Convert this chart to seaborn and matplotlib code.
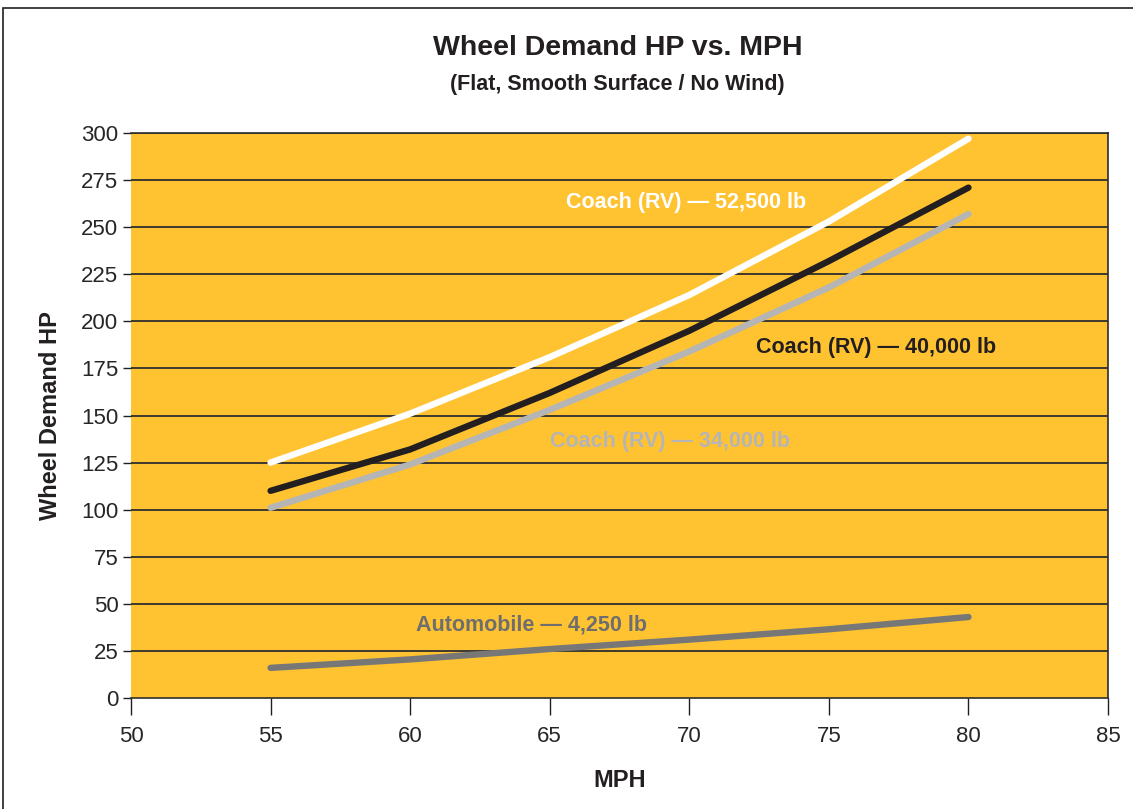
import matplotlib
matplotlib.use('Agg')
import matplotlib.pyplot as plt
import seaborn as sns
import pandas as pd
from matplotlib.patches import Rectangle

# speeds (MPH) and wheel demand HP
mph = [55, 60, 65, 70, 75, 80]
coach_52500 = [125, 151, 181, 214, 253, 297]
coach_40000 = [110, 132, 162, 195, 232, 271]
coach_34000 = [101, 124, 153, 184, 218, 257]
automobile = [16, 20.5, 26, 31, 36.5, 43]

series_names = ['Coach (RV) \u2014 52,500 lb', 'Coach (RV) \u2014 40,000 lb',
                'Coach (RV) \u2014 34,000 lb', 'Automobile \u2014 4,250 lb']
series_values = [coach_52500, coach_40000, coach_34000, automobile]
line_colors = ['#ffffff', '#231f20', '#b5b5b5', '#777777']
label_colors = ['#ffffff', '#231f20', '#b5b5b5', '#6e6e6e']
label_pos = [(65.6, 263), (72.4, 186), (65.0, 136), (60.2, 39)]

sns.set_style('white')
plt.rcParams['font.family'] = ['Liberation Sans Narrow', 'Liberation Sans', 'DejaVu Sans']

rows = []
for name, vals in zip(series_names, series_values):
    for x, y in zip(mph, vals):
        rows.append({'MPH': x, 'HP': y, 'Series': name})
df = pd.DataFrame(rows)

fig = plt.figure(figsize=(11.33, 8.09), dpi=100)
ax = fig.add_axes([0.1156, 0.1372, 0.8624, 0.6984])
ax.set_facecolor('#ffc332')

for y in range(25, 301, 25):
    ax.axhline(y, color='#2e2e2e', lw=1.3, zorder=1)

sns.lineplot(data=df, x='MPH', y='HP', hue='Series', palette=dict(zip(series_names, line_colors)),
             linewidth=4.6, ax=ax, legend=False, zorder=3,
             solid_capstyle='round', solid_joinstyle='round')

for name, col, (lx, ly) in zip(series_names, label_colors, label_pos):
    ax.text(lx, ly, name, color=col, fontsize=15.5, fontweight='bold',
            ha='left', va='center', zorder=4)

ax.set_xlim(50, 85)
ax.set_ylim(0, 300)
ax.set_xticks(range(50, 86, 5))
ax.set_yticks(range(0, 301, 25))
ax.tick_params(axis='x', direction='out', length=12, width=1, color='#231f20',
               labelsize=16, pad=8, bottom=True)
ax.tick_params(axis='y', direction='out', length=6, width=1, color='#231f20',
               labelsize=16, pad=3, left=True)
for s in ax.spines.values():
    s.set_color('#2e2e2e')
    s.set_linewidth(1.2)
ax.spines['left'].set_visible(False)

ax.set_xlabel('MPH', fontsize=17, fontweight='bold', labelpad=16, color='#231f20')
ax.set_ylabel('Wheel Demand HP', fontsize=17, fontweight='bold', labelpad=14, color='#231f20')

fig.text(0.545, 0.941, 'Wheel Demand HP vs. MPH', ha='center', va='center',
         fontsize=20.5, fontweight='bold', color='#231f20')
fig.text(0.545, 0.895, '(Flat, Smooth Surface / No Wind)', ha='center', va='center',
         fontsize=15.5, fontweight='bold', color='#231f20')

# outer frame
fig.patches.append(Rectangle((3 / 1133, -0.05), 1.2, 1 - 8 / 809 + 0.05,
                             transform=fig.transFigure, fill=False,
                             edgecolor='#231f20', lw=1.2))

fig.savefig('out.png', dpi=100)
